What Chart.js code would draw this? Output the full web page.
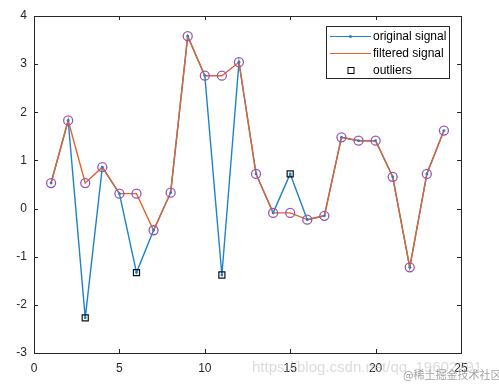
<!DOCTYPE html>
<html>
<head>
<meta charset="utf-8">
<script src="https://cdn.jsdelivr.net/npm/chart.js"></script>
<style>
  body { margin: 0; background: #fff; }
  #wrap { width: 499px; height: 385px; }
</style>
</head>
<body>
<div id="wrap"><canvas id="myChart" width="499" height="385"></canvas></div>
<script>
var samples = [1,2,3,4,5,6,7,8,9,10,11,12,13,14,15,16,17,18,19,20,21,22,23,24];
var original = [0.53,1.83,-2.27,0.86,0.31,-1.33,-0.45,0.33,3.58,2.76,-1.38,3.04,0.72,-0.09,0.72,-0.23,-0.15,1.48,1.41,1.41,0.66,-1.22,0.72,1.62];
var filtered = [0.53,1.83,0.53,0.86,0.31,0.31,-0.45,0.33,3.58,2.76,2.76,3.04,0.72,-0.09,-0.09,-0.23,-0.15,1.48,1.41,1.41,0.66,-1.22,0.72,1.62];
var outlierAt = [3,6,11,15];
var legendNames = ['original signal','filtered signal','outliers'];

var blue = '#1f82c8';
var orange = '#e0642c';
var purple = '#9a55b0';
var axisColor = '#262626';

function toPoints(xs, ys){
    var pts = [];
    for(let i = 0; i < xs.length; i++){
        pts.push({x: xs[i], y: ys[i]});
    }
    return pts;
}

var outlierPts = outlierAt.map(function(s){
    return {x: s, y: original[samples.indexOf(s)]};
});

// box around the axes with inward ticks, legend and watermark
var boxPlugin = {
    id: 'matlabBox',
    afterDraw: function(chart){
        var ctx = chart.ctx;
        var a = chart.chartArea;
        var xs = chart.scales.x, ys = chart.scales.y;
        ctx.save();
        ctx.strokeStyle = axisColor;
        ctx.lineWidth = 1;
        ctx.strokeRect(Math.round(a.left) + 0.5, Math.round(a.top) + 0.5, Math.round(a.right - a.left), Math.round(a.bottom - a.top));
        ctx.beginPath();
        xs.ticks.forEach(function(t){
            var px = Math.round(xs.getPixelForValue(t.value)) + 0.5;
            ctx.moveTo(px, a.bottom); ctx.lineTo(px, a.bottom - 4);
            ctx.moveTo(px, a.top); ctx.lineTo(px, a.top + 4);
        });
        ys.ticks.forEach(function(t){
            var py = Math.round(ys.getPixelForValue(t.value)) + 0.5;
            ctx.moveTo(a.left, py); ctx.lineTo(a.left + 4, py);
            ctx.moveTo(a.right, py); ctx.lineTo(a.right - 4, py);
        });
        ctx.stroke();

        // legend
        var lx = 326.5, ly = 26.5, lw = 123, lh = 52;
        ctx.fillStyle = '#fff';
        ctx.fillRect(lx, ly, lw, lh);
        ctx.strokeStyle = axisColor;
        ctx.strokeRect(lx, ly, lw, lh);
        var rows = [36.5, 53.5, 70.5];
        ctx.lineWidth = 1.2;
        ctx.strokeStyle = blue;
        ctx.beginPath(); ctx.moveTo(330, rows[0]); ctx.lineTo(371, rows[0]); ctx.stroke();
        ctx.fillStyle = blue;
        ctx.beginPath(); ctx.arc(350.5, rows[0], 1.5, 0, Math.PI * 2); ctx.fill();
        ctx.strokeStyle = orange;
        ctx.beginPath(); ctx.moveTo(330, rows[1]); ctx.lineTo(371, rows[1]); ctx.stroke();
        ctx.lineWidth = 1;
        ctx.strokeStyle = '#000';
        ctx.strokeRect(348, rows[2] - 3, 6, 6);
        ctx.fillStyle = '#000';
        ctx.font = '12px "Liberation Sans", Arial, sans-serif';
        ctx.textBaseline = 'middle';
        ctx.textAlign = 'left';
        for(let i = 0; i < legendNames.length; i++){
            ctx.fillText(legendNames[i], 373, rows[i]);
        }

        // watermark
        ctx.fillStyle = 'rgba(190,190,190,0.55)';
        ctx.font = '15px "Liberation Sans", Arial, sans-serif';
        ctx.fillText('https://blog.csdn.net/qq_19602291', 252, 368);
        ctx.fillStyle = 'rgba(140,140,140,0.8)';
        ctx.font = '11px "Noto Sans CJK SC", sans-serif';
        ctx.fillText('@稀土掘金技术社区', 403, 375);
        ctx.restore();
    }
};

var ctx = document.getElementById('myChart');
var myChart = new Chart(ctx, {
    type: 'line',
    data: {
        datasets: [
            {
                label: 'circles',
                data: toPoints(samples, filtered),
                showLine: false,
                pointStyle: 'circle',
                pointRadius: 4.5,
                pointBorderWidth: 1.3,
                pointBorderColor: purple,
                pointBackgroundColor: 'rgba(0,0,0,0)',
                order: 0
            },
            {
                label: legendNames[2],
                data: outlierPts,
                showLine: false,
                pointStyle: 'rect',
                pointRadius: 4.3,
                pointBorderWidth: 1.2,
                pointBorderColor: '#111',
                pointBackgroundColor: 'rgba(0,0,0,0)',
                order: 1
            },
            {
                label: 'dots',
                data: toPoints(samples, original),
                showLine: false,
                pointRadius: 1.4,
                pointBorderWidth: 0,
                pointBackgroundColor: blue,
                order: 2
            },
            {
                label: legendNames[1],
                data: toPoints(samples, filtered),
                borderColor: orange,
                borderWidth: 1.4,
                pointRadius: 0,
                tension: 0,
                order: 3
            },
            {
                label: legendNames[0],
                data: toPoints(samples, original),
                borderColor: blue,
                borderWidth: 1.4,
                pointRadius: 0,
                tension: 0,
                order: 4
            }
        ]
    },
    plugins: [boxPlugin],
    options: {
        responsive: false,
        devicePixelRatio: 1,
        animation: false,
        events: [],
        layout: {
            padding: {left: 0, top: 16, right: 38, bottom: 0}
        },
        plugins: {
            legend: {display: false},
            tooltip: {enabled: false}
        },
        scales: {
            x: {
                type: 'linear',
                min: 0,
                max: 25,
                grid: {display: false, drawTicks: false},
                border: {display: false},
                ticks: {
                    stepSize: 5,
                    color: axisColor,
                    padding: 8,
                    maxRotation: 0,
                    font: {family: '"Liberation Sans", Arial, sans-serif', size: 12}
                },
                afterFit: function(scale){ scale.height = 32; }
            },
            y: {
                min: -3,
                max: 4,
                grid: {display: false, drawTicks: false},
                border: {display: false},
                ticks: {
                    stepSize: 1,
                    color: axisColor,
                    padding: 7,
                    font: {family: '"Liberation Sans", Arial, sans-serif', size: 12}
                },
                afterFit: function(scale){ scale.width = 34; }
            }
        }
    }
});
</script>
</body>
</html>
